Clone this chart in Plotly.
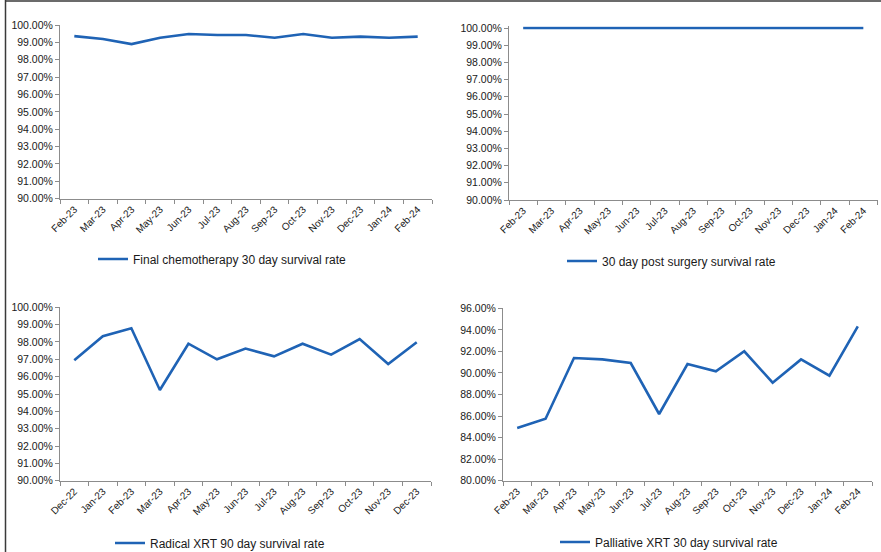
import plotly.graph_objects as go

# ---- data -------------------------------------------------------------
months_a = ["Feb-23", "Mar-23", "Apr-23", "May-23", "Jun-23", "Jul-23", "Aug-23",
            "Sep-23", "Oct-23", "Nov-23", "Dec-23", "Jan-24", "Feb-24"]
months_b = ["Dec-22", "Jan-23", "Feb-23", "Mar-23", "Apr-23", "May-23", "Jun-23",
            "Jul-23", "Aug-23", "Sep-23", "Oct-23", "Nov-23", "Dec-23"]

chemo_30 = [99.36, 99.19, 98.90, 99.27, 99.48, 99.42, 99.42,
            99.27, 99.48, 99.27, 99.33, 99.27, 99.33]
surgery_30 = [100.0] * 13
radical_xrt_90 = [96.94, 98.33, 98.79, 95.23, 97.90, 97.00, 97.62,
                  97.17, 97.90, 97.27, 98.17, 96.73, 97.98]
palliative_xrt_30 = [84.89, 85.75, 91.39, 91.26, 90.92, 86.19, 90.83,
                     90.15, 92.01, 89.10, 91.26, 89.75, 94.33]

names = ["Final chemotherapy 30 day survival rate",
         "30 day post surgery survival rate",
         "Radical XRT 90 day survival rate",
         "Palliative XRT 30 day survival rate"]

# ---- styling ----------------------------------------------------------
W, H = 881, 552
LINE = "#1F63B5"
AXIS = "#8c8c8c"
TXT = "#1a1a1a"
FONT = "Liberation Sans, Arial, sans-serif"


def xdom(left, right):
    return [left / W, right / W]


def ydom(bottom_px, top_px):
    return [1 - bottom_px / H, 1 - top_px / H]


# panel geometry in pixels: (x0, x1), (y of range-min, y of range-max), legend anchor
panels = [
    dict(x=months_a, y=chemo_30, name=names[0], xpx=(60, 432), ypx=(198.7, 25.0),
         rng=(90, 100), dtick=1, leg=(93, 259)),
    dict(x=months_a, y=surgery_30, name=names[1], xpx=(509, 877.5), ypx=(200.0, 26.3),
         rng=(90, 100.1), dtick=1, leg=(562, 261)),
    dict(x=months_b, y=radical_xrt_90, name=names[2], xpx=(60, 431), ypx=(480.7, 307.3),
         rng=(90, 100), dtick=1, leg=(110, 543)),
    dict(x=months_a, y=palliative_xrt_30, name=names[3], xpx=(503, 872), ypx=(480.7, 308.3),
         rng=(80, 96), dtick=2, leg=(555, 542)),
]

fig = go.Figure()
layout = dict(
    width=W, height=H,
    margin=dict(l=0, r=0, t=0, b=0, autoexpand=False),
    paper_bgcolor="white", plot_bgcolor="white",
    font=dict(family=FONT, color=TXT, size=11),
    showlegend=True,
)

for i, p in enumerate(panels, start=1):
    sfx = "" if i == 1 else str(i)
    leg_name = "legend" if i == 1 else f"legend{i}"
    fig.add_trace(go.Scatter(
        x=p["x"], y=p["y"], name=p["name"], mode="lines",
        line=dict(color=LINE, width=2.6),
        xaxis=f"x{sfx}", yaxis=f"y{sfx}", legend=leg_name,
        hoverinfo="skip",
    ))
    layout[f"xaxis{sfx}"] = dict(
        domain=xdom(*p["xpx"]), anchor=f"y{sfx}", type="category",
        categoryorder="array", categoryarray=p["x"],
        range=[-0.5, len(p["x"]) - 0.5], tickson="boundaries",
        ticks="outside", ticklen=4, tickcolor=AXIS, tickwidth=1,
        showline=True, linecolor=AXIS, linewidth=1,
        showgrid=False, zeroline=False, tickangle=-45, automargin=False,
        tickfont=dict(size=10, color=TXT, family=FONT),
    )
    layout[f"yaxis{sfx}"] = dict(
        domain=ydom(*p["ypx"]), anchor=f"x{sfx}",
        range=list(p["rng"]), tick0=p["rng"][0], dtick=p["dtick"],
        tickformat=".2f", ticksuffix="%",
        ticks="outside", ticklen=4, tickcolor=AXIS, tickwidth=1,
        showline=True, linecolor=AXIS, linewidth=1,
        showgrid=False, zeroline=False, automargin=False,
        tickfont=dict(size=10.5, color=TXT, family=FONT),
    )
    layout[leg_name] = dict(
        x=p["leg"][0] / W, y=1 - p["leg"][1] / H, xanchor="left", yanchor="middle",
        orientation="h", bgcolor="rgba(0,0,0,0)", borderwidth=0,
        font=dict(size=12, color=TXT, family=FONT), itemwidth=30,
    )

fig.update_layout(**layout)

# frame lines along the top and left edges of the page
fig.add_shape(type="line", xref="paper", yref="paper",
              x0=5 / W, x1=1, y0=1 - 1 / H, y1=1 - 1 / H,
              line=dict(color="#3a3a3a", width=1.5))
fig.add_shape(type="line", xref="paper", yref="paper",
              x0=5.5 / W, x1=5.5 / W, y0=0, y1=1,
              line=dict(color="#3a3a3a", width=1.5))

fig.write_html("out.html")
